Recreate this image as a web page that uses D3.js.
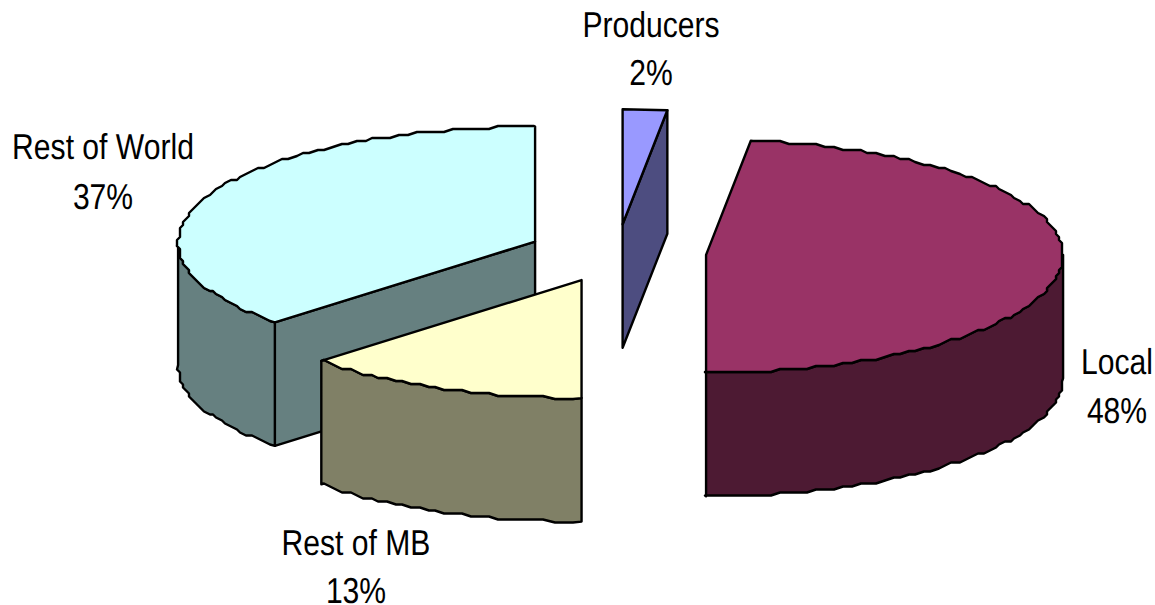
<!DOCTYPE html>
<html>
<head>
<meta charset="utf-8">
<script src="https://cdn.jsdelivr.net/npm/d3@7/dist/d3.min.js"></script>
<style>
  html, body { margin: 0; padding: 0; background: #fff; overflow: hidden; }
  svg { display: block; }
  text { font-family: "Liberation Sans", Arial, sans-serif; fill: #000; text-rendering: geometricPrecision; }
</style>
</head>
<body>
<svg id="chart" width="1155" height="605"></svg>
<script>
// Share of sales by destination, clockwise from twelve o'clock.
const categories = ["Producers", "Local", "Rest of MB", "Rest of World"];
const shares = [2, 48, 13, 37];
const topColors = ["#9999FF", "#993366", "#FFFFCC", "#CCFFFF"];
const sideColors = ["#4D4D80", "#4D1A33", "#808066", "#668080"];

// Tilted pie geometry; the far half of the ellipse is slightly foreshortened
const centre = [617, 253];
const radiusX = 357, farRadiusY = 115, nearRadiusY = 118;
const depth = 123.5;
const explode = 0.25;
const snapGrid = 3;      // outline vertices sit on a coarse grid, giving the plotted edge its grain
const arcStep = Math.PI / 120;
const minGrainSweep = Math.PI / 18;   // very thin slices keep a straight outer edge

// Label centre x and the baselines of the name and percentage lines
const labelAnchors = [[651, 37, 85], [1117, 374, 423], [356, 555, 603], [103, 159, 209]];

const svg = d3.select("#chart");
const slices = d3.pie().sort(null).value(d => d).startAngle(0).endAngle(2 * Math.PI)(shares);

// Maps pie angle (clockwise from top) and unit radius onto the tilted plane
const scaleX = d3.scaleLinear().domain([-1, 1]).range([-radiusX, radiusX]);
const scaleY = d3.scaleLinear().domain([-1, 0, 1]).range([-farRadiusY, 0, nearRadiusY]);
const polar = (a, r) => [scaleX(r * Math.sin(a)), scaleY(-r * Math.cos(a))];

const line = d3.line();

function geometry(slice) {
  const mid = (slice.startAngle + slice.endAngle) / 2;
  const off = polar(mid, explode);
  const apex = [centre[0] + off[0], centre[1] + off[1]];
  const at = a => {
    const p = polar(a, 1);
    return [apex[0] + p[0], apex[1] + p[1]];
  };
  // Rim polyline between two angles: vertices come from one shared angular grid,
  // so a wall and the top face trace exactly the same edge
  const rim = (a0, a1) => {
    if (slice.endAngle - slice.startAngle < minGrainSweep) return [at(a0), at(a1)];
    const inner = d3.range(Math.floor(a0 / arcStep) + 1, Math.ceil(a1 / arcStep))
      .map(k => {
        const p = at(k * arcStep);
        return [Math.round(p[0] / snapGrid) * snapGrid, Math.round(p[1] / snapGrid) * snapGrid];
      });
    return [at(a0), ...inner, at(a1)];
  };
  return { apex, at, rim };
}

const down = p => [p[0], p[1] + depth];

function drawFace(points, fill) {
  svg.append("path")
    .attr("d", line(points) + "Z")
    .attr("fill", fill)
    .attr("stroke", "#000")
    .attr("stroke-width", 2.4)
    .attr("stroke-linejoin", "round");
}

// Back-to-front so nearer slices overlap farther ones
[3, 2, 0, 1].forEach(i => {
  const s = slices[i];
  const { apex, at, rim } = geometry(s);
  const a0 = s.startAngle, a1 = s.endAngle;
  const pi = Math.PI;

  // Cut face on the closing edge of a slice in the far-right quadrant
  if (a1 < pi / 2) {
    const e = at(a1);
    drawFace([apex, e, down(e), down(apex)], sideColors[i]);
  }
  // Cut face on the opening edge of a slice that starts in the near-left quadrant
  if (a0 > pi && a0 < 3 * pi / 2 && a1 > 3 * pi / 2) {
    const e = at(a0);
    drawFace([apex, e, down(e), down(apex)], sideColors[i]);
  }
  // Outer wall: only the front half of the rim is visible
  const w0 = Math.max(a0, pi / 2), w1 = Math.min(a1, 3 * pi / 2);
  if (w1 > w0) {
    const top = rim(w0, w1);
    drawFace(top.concat(top.map(down).reverse()), sideColors[i]);
  }
  drawFace([apex].concat(rim(a0, a1)), topColors[i]);
});

// Category name above its percentage; the type is condensed horizontally
const labels = svg.append("g").selectAll("g")
  .data(categories)
  .join("g");
const squeeze = 0.836;
labels.each(function (name, i) {
  const [x, y1, y2] = labelAnchors[i];
  [[name, y1], [`${shares[i]}%`, y2]].forEach(([str, y]) => {
    d3.select(this).append("text")
      .attr("transform", `translate(${x},${y}) scale(${squeeze},1)`)
      .attr("text-anchor", "middle")
      .attr("font-size", 36)
      .text(str);
  });
});
</script>
</body>
</html>
